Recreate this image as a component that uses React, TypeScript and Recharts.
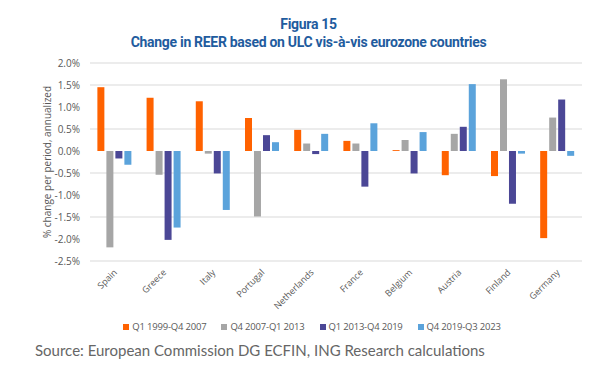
import { Bar, BarChart, CartesianGrid, XAxis, YAxis } from "recharts";

const countries = ["Spain", "Greece", "Italy", "Portugal", "Netherlands", "France", "Belgium", "Austria", "Finland", "Germany"];
const p1999_2007 = [1.45, 1.21, 1.13, 0.75, 0.48, 0.23, 0.02, -0.55, -0.57, -1.98];
const p2007_2013 = [-2.19, -0.54, -0.06, -1.49, 0.17, 0.17, 0.25, 0.39, 1.63, 0.76];
const p2013_2019 = [-0.17, -2.02, -0.51, 0.36, -0.07, -0.81, -0.51, 0.55, -1.2, 1.17];
const p2019_2023 = [-0.31, -1.74, -1.34, 0.2, 0.39, 0.63, 0.43, 1.52, -0.06, -0.11];

const seriesNames = ["Q1 1999-Q4 2007", "Q4 2007-Q1 2013", "Q1 2013-Q4 2019", "Q4 2019-Q3 2023"];
const seriesKeys = ["a", "b", "c", "d"];
const seriesColors = ["#FF6200", "#A6A6A6", "#4B4796", "#5BA3DB"];
const yTicks = [2, 1.5, 1, 0.5, 0, -0.5, -1, -1.5, -2, -2.5];

const data = countries.map((c, i) => ({
  country: c,
  a: p1999_2007[i],
  b: p2007_2013[i],
  c: p2013_2019[i],
  d: p2019_2023[i],
}));

const labelFont = "'Open Sans', sans-serif";
const grey = "#595959";

function CountryTick({ x, y, payload }: any) {
  const ax = x + 3;
  const ay = y + 4;
  return (
    <text
      x={ax}
      y={ay}
      transform={`rotate(-45, ${ax}, ${ay})`}
      textAnchor="end"
      fontSize={9}
      fontFamily={labelFont}
      fill={grey}
    >
      {payload.value}
    </text>
  );
}

function YLabel({ viewBox }: any) {
  const cx = viewBox.x - 13;
  const cy = viewBox.y + viewBox.height / 2;
  return (
    <text
      x={cx}
      y={cy}
      transform={`rotate(-90, ${cx}, ${cy})`}
      textAnchor="middle"
      dominantBaseline="central"
      fontSize={10}
      fontFamily={labelFont}
      fill={grey}
    >
      % change per period, annualized
    </text>
  );
}

export default function App() {
  return (
    <div
      style={{
        position: "absolute",
        left: 0,
        top: 0,
        width: 601,
        height: 377,
        background: "#fff",
        overflow: "hidden",
      }}
    >
      <div
        style={{
          position: "absolute",
          top: 15,
          left: 0,
          width: 617,
          textAlign: "center",
          fontFamily: "Roboto, sans-serif",
          fontWeight: 700,
          fontSize: 14,
          letterSpacing: -0.3,
          lineHeight: "18px",
          color: "#1F5C9E",
        }}
      >
        <div>Figura 15</div>
        <div>Change in REER based on ULC vis-à-vis eurozone countries</div>
      </div>

      <BarChart
        width={601}
        height={320}
        data={data}
        margin={{ top: 63, right: 19, left: 60, bottom: 0 }}
        barCategoryGap="15%"
        barGap={2}
      >
        <CartesianGrid vertical={false} stroke="#D9D9D9" />
        <XAxis
          dataKey="country"
          axisLine={false}
          tickLine={false}
          height={59}
          interval={0}
          tick={<CountryTick />}
        />
        <YAxis
          domain={[-2.5, 2]}
          ticks={yTicks}
          axisLine={false}
          tickLine={false}
          width={30}
          tickMargin={4}
          tick={{ fill: grey, fontSize: 10, fontFamily: labelFont }}
          tickFormatter={(v: number) => `${v.toFixed(1)}%`}
          label={<YLabel />}
        />
        {seriesKeys.map((k, i) => (
          <Bar key={k} dataKey={k} name={seriesNames[i]} fill={seriesColors[i]} isAnimationActive={false} />
        ))}
      </BarChart>

      <div
        style={{
          position: "absolute",
          top: 320,
          left: 0,
          width: 624,
          display: "flex",
          justifyContent: "center",
          gap: 15,
          fontFamily: labelFont,
          fontSize: 9.5,
          letterSpacing: -0.2,
          lineHeight: "14px",
          color: grey,
        }}
      >
        {seriesNames.map((n, i) => (
          <div key={n} style={{ display: "flex", alignItems: "center" }}>
            <span style={{ width: 6, height: 6, background: seriesColors[i], marginRight: 3 }} />
            {n}
          </div>
        ))}
      </div>

      <div
        style={{
          position: "absolute",
          top: 340,
          left: 35,
          fontFamily: "Lato, sans-serif",
          fontSize: 15,
          lineHeight: "20px",
          color: "#666",
          whiteSpace: "nowrap",
        }}
      >
        Source: European Commission DG ECFIN, ING Research calculations
      </div>
    </div>
  );
}
